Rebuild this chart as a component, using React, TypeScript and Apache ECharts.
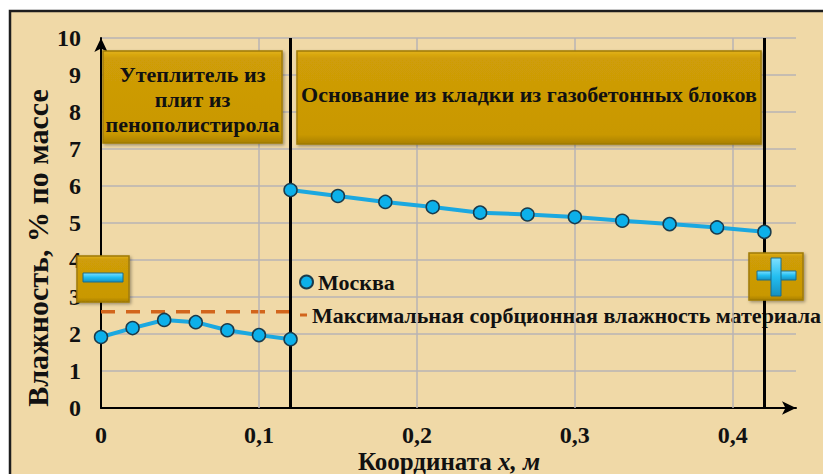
import React, { useEffect, useRef } from "react";
import * as echarts from "echarts";

const xLeft = [0, 0.02, 0.04, 0.06, 0.08, 0.1, 0.12];
const moistLeft = [1.92, 2.16, 2.38, 2.32, 2.1, 1.97, 1.86];
const xRight = [0.12, 0.15, 0.18, 0.21, 0.24, 0.27, 0.3, 0.33, 0.36, 0.39, 0.42];
const moistRight = [5.89, 5.73, 5.57, 5.43, 5.28, 5.23, 5.16, 5.06, 4.97, 4.88, 4.76];
const sorptionX = [0, 0.12];
const sorptionY = [2.6, 2.6];
const layerBounds = [0.12, 0.42];
const xGridValues = [0.1, 0.2, 0.3, 0.4];
const yTicks = [0, 1, 2, 3, 4, 5, 6, 7, 8, 9, 10];
const xTickLabels = ["0", "0,1", "0,2", "0,3", "0,4"];

const SERIES_CITY = "Москва";
const SERIES_MAX = "Максимальная сорбционная влажность материала";
const LAYER1 = "Утеплитель из\nплит из\nпенополистирола";
const LAYER2 = "Основание из кладки из газобетонных блоков";

const FONT = "Liberation Serif";
const GRID_COLOR = "#b8b3b4";

function goldBox(x: number, y: number, w: number, h: number) {
  return {
    type: "rect",
    z: 100,
    shape: { x, y, width: w, height: h },
    style: {
      fill: {
        type: "linear",
        x: 0, y: 0, x2: 0, y2: 1,
        colorStops: [
          { offset: 0, color: "#e2b21a" },
          { offset: 0.08, color: "#cf9d07" },
          { offset: 0.9, color: "#c99804" },
          { offset: 1, color: "#a98003" },
        ],
      },
      stroke: "#9e7a08",
      lineWidth: 1.5,
      shadowBlur: 3,
      shadowOffsetX: 1.5,
      shadowOffsetY: 1.5,
      shadowColor: "rgba(0,0,0,0.35)",
    },
  };
}

function cyanBar(x: number, y: number, w: number, h: number) {
  return {
    type: "rect",
    z: 101,
    shape: { x, y, width: w, height: h },
    style: {
      fill: {
        type: "linear",
        x: 0, y: 0, x2: 0, y2: 1,
        colorStops: [
          { offset: 0, color: "#7fe0ff" },
          { offset: 0.5, color: "#22bdf0" },
          { offset: 1, color: "#1690c0" },
        ],
      },
      stroke: "#1a6d8c",
      lineWidth: 1,
    },
  };
}

export default function App() {
  const ref = useRef<HTMLDivElement>(null);
  useEffect(() => {
    if (!ref.current) return;
    const chart = echarts.init(ref.current, null, { renderer: "svg" });
    const lineStyleCity = { color: "#1ba8e0", width: 4 };
    const itemStyleCity = { color: "#0cb0ea", borderColor: "#1a3b4c", borderWidth: 1.5 };
    const legendText = { fontFamily: FONT, fontWeight: "bold", fontSize: 22, color: "#111" };
    chart.setOption({
      animation: false,
      backgroundColor: "#ffffff",
      textStyle: { fontFamily: FONT },
      grid: { left: 101, top: 38, right: 27, bottom: 66 },
      xAxis: {
        type: "value",
        min: 0,
        max: 0.44,
        interval: 0.1,
        axisLine: {
          show: true,
          symbol: ["none", "arrow"],
          symbolSize: [10, 14],
          lineStyle: { color: "#000", width: 2 },
        },
        axisTick: { show: false },
        splitLine: { show: false },
        axisLabel: {
          showMaxLabel: false,
          margin: 15,
          fontFamily: FONT,
          fontWeight: "bold",
          fontSize: 24,
          color: "#111",
          formatter: (v: number) => {
            const i = Math.round(v * 10);
            return xTickLabels[i] ?? "";
          },
        },
      },
      yAxis: {
        type: "value",
        min: yTicks[0],
        max: yTicks[yTicks.length - 1],
        interval: 1,
        axisLine: {
          show: true,
          symbol: ["none", "arrow"],
          symbolSize: [10, 14],
          lineStyle: { color: "#000", width: 2 },
        },
        axisTick: { show: false },
        splitLine: { show: true, lineStyle: { color: GRID_COLOR, width: 1.5 } },
        axisLabel: {
          margin: 20,
          fontFamily: FONT,
          fontWeight: "bold",
          fontSize: 24,
          color: "#111",
        },
      },
      legend: [
        {
          left: 294,
          top: 266,
          itemWidth: 13,
          itemHeight: 13,
          data: [{ name: SERIES_CITY, icon: "circle" }],
          textStyle: legendText,
        },
        {
          left: 295,
          top: 299,
          itemWidth: 7,
          itemHeight: 3,
          data: [{ name: SERIES_MAX, icon: "rect" }],
          textStyle: legendText,
        },
      ],
      series: [
        {
          name: SERIES_CITY,
          type: "line",
          data: xLeft.map((x, i) => [x, moistLeft[i]]),
          symbol: "circle",
          symbolSize: 13,
          lineStyle: lineStyleCity,
          itemStyle: itemStyleCity,
          z: 5,
          markLine: {
            silent: true,
            symbol: ["none", "none"],
            label: { show: false },
            lineStyle: { color: "#000", width: 3, type: "solid" },
            data: layerBounds.map((b) => ({ xAxis: b })),
          },
        },
        {
          name: SERIES_CITY,
          type: "line",
          data: xRight.map((x, i) => [x, moistRight[i]]),
          symbol: "circle",
          symbolSize: 13,
          lineStyle: lineStyleCity,
          itemStyle: itemStyleCity,
          z: 5,
        },
        {
          name: SERIES_MAX,
          type: "line",
          data: sorptionX.map((x, i) => [x, sorptionY[i]]),
          symbol: "none",
          lineStyle: { color: "#d2651c", width: 3.5, type: [14, 11] },
          itemStyle: { color: "#d2651c" },
          z: 4,
          markLine: {
            silent: true,
            symbol: ["none", "none"],
            label: { show: false },
            lineStyle: { color: GRID_COLOR, width: 1.5, type: "solid" },
            data: xGridValues.map((v) => ({ xAxis: v })),
          },
        },
      ],
      graphic: [
        {
          type: "rect",
          z: -100,
          silent: true,
          shape: { x: 10, y: 11, width: 900, height: 600 },
          style: { fill: "#f0d9a7", stroke: "#1d1d1d", lineWidth: 2.5 },
        },
        goldBox(103, 51, 179, 92),
        {
          type: "text",
          z: 102,
          x: 192.5,
          y: 99.5,
          style: {
            text: LAYER1,
            fontFamily: FONT,
            fontWeight: "bold",
            fontSize: 22,
            lineHeight: 25,
            fill: "#111",
            align: "center",
            verticalAlign: "middle",
          },
        },
        goldBox(297, 51, 464, 93),
        {
          type: "text",
          z: 102,
          x: 529,
          y: 94,
          style: {
            text: LAYER2,
            fontFamily: FONT,
            fontWeight: "bold",
            fontSize: 22,
            fill: "#111",
            align: "center",
            verticalAlign: "middle",
          },
        },
        goldBox(77, 256, 52, 46),
        cyanBar(83, 273, 40, 9),
        goldBox(749, 253, 54, 47),
        cyanBar(757, 271, 39, 9),
        cyanBar(771, 258, 10, 38),
        {
          type: "text",
          z: 102,
          x: 37,
          y: 248,
          rotation: Math.PI / 2,
          style: {
            text: "Влажность, % по массе",
            fontFamily: FONT,
            fontWeight: "bold",
            fontSize: 30,
            fill: "#111",
            align: "center",
            verticalAlign: "middle",
          },
        },
        {
          type: "text",
          z: 102,
          x: 449,
          y: 474,
          style: {
            text: "{a|Координата }{i|x, м}",
            fontFamily: FONT,
            fontWeight: "bold",
            fontSize: 25,
            fill: "#111",
            align: "center",
            verticalAlign: "bottom",
            rich: {
              a: { fontFamily: FONT, fontWeight: "bold", fontSize: 25, fill: "#111" },
              i: { fontFamily: FONT, fontWeight: "bold", fontStyle: "italic", fontSize: 25, fill: "#111" },
            },
          },
        },
      ],
    });
    return () => chart.dispose();
  }, []);
  return (
    <div
      ref={ref}
      style={{ position: "absolute", left: 0, top: 0, width: 823, height: 474 }}
    />
  );
}
